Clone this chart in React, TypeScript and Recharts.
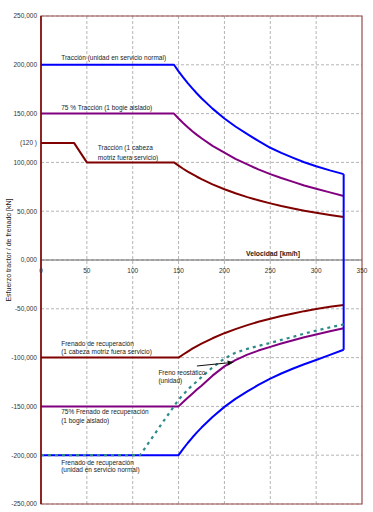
import {
  CartesianGrid,
  Line,
  LineChart,
  ReferenceArea,
  ReferenceDot,
  ReferenceLine,
  XAxis,
  YAxis,
} from "recharts";

const FONT = "'Liberation Sans', Arial, sans-serif";

// axes (speed in km/h, force in kN)
const xTicks = [0, 50, 100, 150, 200, 250, 300, 350];
const yTicks = [-250, -200, -150, -100, -50, 0, 50, 100, 150, 200, 250];
const yMarkTick = 120;

// speeds read along the curved parts
const curveV = [155, 160, 165, 170, 175, 187, 200, 212, 225, 237, 250, 262, 275, 287, 300, 315, 330];

// traction curves
const tracNormalV = [0, 145, 150, ...curveV];
const tracNormalF = [200, 200, 193.3, 187.1, 181.3, 175.8, 170.6, 165.7, 155.1, 145, 136.8, 128.9, 122, 115, 109.8, 104.7, 100.2, 96, 91.8, 88];

const trac75V = [0, 145, 150, ...curveV];
const trac75F = [150, 150, 145, 140.4, 136.1, 132, 128.2, 124.7, 116.9, 110, 103.6, 98, 92.8, 88, 84, 80, 76.4, 73, 69.3, 65.5];

const tracHeadV = [0, 36, 50, 145, 150, ...curveV];
const tracHeadF = [120, 120, 100, 100, 96.7, 93.5, 90.6, 87.9, 85.3, 82.9, 77.5, 72.5, 68.4, 64.4, 61.2, 58, 55.3, 52.7, 50.5, 48.3, 46, 44];

// drop at top speed
const cutoffV = [330, 330];
const cutoffF = [88, -92];

// braking curves
const brakeHeadV = [0, 150, ...curveV];
const brakeHeadF = [-100, -100, -96.8, -93.8, -90.9, -88.2, -85.7, -80.2, -75, -70.8, -66.7, -63.3, -60.2, -57.4, -54.8, -52.4, -50.3, -48, -46];

const brake75V = [0, 150, ...curveV];
const brake75F = [-150, -150, -145.5, -141.2, -137, -132.8, -128.8, -118.5, -109, -102.5, -97, -92.8, -89, -85.6, -82.3, -79.2, -76.3, -73, -70];

const brakeNormalV = [0, 150, ...curveV];
const brakeNormalF = [-200, -200, -193.5, -187.5, -181.9, -176.6, -171.7, -160.8, -150.5, -142.3, -134.6, -128, -121.5, -116.3, -111.2, -106.8, -102.5, -97.2, -92];

const rheoV = [0, 108, 130, 150, 162, 175, 187, 200, 212, 225, 237, 250, 262, 275, 287, 300, 315, 330];
const rheoF = [-200, -200, -170, -143, -131, -120, -110, -101, -95, -91, -88, -85, -81.8, -78.7, -75.4, -72.4, -69, -66];

const notes = [
  { text: "Tracción (unidad en servicio normal)", v: 22, f: 207 },
  { text: "75 % Tracción (1 bogie aislado)", v: 22, f: 156 },
  { text: "Tracción (1 cabeza", v: 62, f: 115 },
  { text: "motriz fuera servicio)", v: 62, f: 105.5 },
  { text: "Frenado de recuperación", v: 22, f: -85.5 },
  { text: "(1 cabeza motriz fuera servicio)", v: 22, f: -94 },
  { text: "Freno reostático", v: 128, f: -115 },
  { text: "(unidad)", v: 128, f: -123 },
  { text: "75% Frenado de recuperación", v: 22, f: -155.7 },
  { text: "(1 bogie aislado)", v: 22, f: -164 },
  { text: "Frenado de recuperación", v: 22, f: -207 },
  { text: "(unidad en servicio normal)", v: 22, f: -215 },
];

const arrowFrom = { v: 170, f: -108.6 };
const arrowTo = { v: 210, f: -104.8 };

function zip(v: number[], f: number[]) {
  return v.map((x, i) => ({ v: x, f: f[i] }));
}

function fmtForce(v: number): string {
  if (v === yMarkTick) return "(120 )";
  return v.toFixed(3).replace(".", ",");
}

function Arrow(props: any) {
  const { x1, y1, x2, y2 } = props;
  const a = Math.atan2(y2 - y1, x2 - x1);
  const len = 6;
  const w = 2.5;
  const bx = x2 - len * Math.cos(a);
  const by = y2 - len * Math.sin(a);
  const px = -Math.sin(a) * w;
  const py = Math.cos(a) * w;
  return (
    <g>
      <line x1={x1} y1={y1} x2={bx} y2={by} stroke="#111" strokeWidth={1} />
      <polygon
        points={`${x2},${y2} ${bx + px},${by + py} ${bx - px},${by - py}`}
        fill="#111"
      />
    </g>
  );
}

function YTitle(props: any) {
  const vb = props.viewBox || { x: 0, y: 16, width: 41, height: 488 };
  const cx = vb.x + 8;
  const cy = vb.y + vb.height / 2 - 10;
  return (
    <text
      x={cx}
      y={cy}
      transform={`rotate(-90 ${cx} ${cy})`}
      textAnchor="middle"
      dominantBaseline="central"
      fontSize={7}
      fontFamily={FONT}
      fill="#222"
    >
      Esfuerzo tractor / de frenado [kN]
    </text>
  );
}

export default function App() {
  const lineProps = {
    dataKey: "f",
    dot: false,
    isAnimationActive: false,
    type: "linear" as const,
    strokeWidth: 2,
    strokeLinejoin: "round" as const,
  };
  return (
    <div style={{ position: "absolute", left: 0, top: 0, background: "#fff" }}>
      <LineChart width={373} height={512} margin={{ top: 16, right: 11, bottom: 8, left: 0 }}>
        <CartesianGrid
          stroke="#b5b5b5"
          strokeDasharray="3 2"
          horizontalValues={yTicks}
          verticalValues={[50, 100, 150, 200, 250, 300]}
        />
        <XAxis dataKey="v" type="number" domain={[0, 350]} ticks={xTicks} hide />
        <YAxis
          type="number"
          domain={[-250, 250]}
          ticks={[...yTicks, yMarkTick]}
          interval={0}
          tickFormatter={fmtForce}
          width={41}
          tickLine={false}
          tickSize={0}
          tickMargin={4}
          axisLine={{ stroke: "#7a0000", strokeWidth: 1.5 }}
          tick={{ fontSize: 6.5, fill: "#333", fontFamily: FONT }}
          label={YTitle}
        />
        <ReferenceArea
          x1={0}
          x2={350}
          y1={-250}
          y2={250}
          fill="none"
          stroke="#9b4a4a"
          strokeWidth={1.2}
        />
        <ReferenceLine y={0} stroke="#666" strokeWidth={1} />

        <Line {...lineProps} data={zip(tracHeadV, tracHeadF)} stroke="#800000" />
        <Line {...lineProps} data={zip(trac75V, trac75F)} stroke="#800080" />
        <Line {...lineProps} data={zip(brakeHeadV, brakeHeadF)} stroke="#800000" />
        <Line {...lineProps} data={zip(brake75V, brake75F)} stroke="#800080" />
        <Line {...lineProps} data={zip(brakeNormalV, brakeNormalF)} stroke="#0000ff" />
        <Line {...lineProps} data={zip(tracNormalV, tracNormalF)} stroke="#0000ff" />
        <Line {...lineProps} data={zip(cutoffV, cutoffF)} stroke="#0000ff" />
        <Line
          {...lineProps}
          data={zip(rheoV, rheoF)}
          stroke="#2e8b8b"
          strokeWidth={2.2}
          strokeDasharray="3 4"
        />

        {xTicks.map((t) => (
          <ReferenceDot
            key={`xt${t}`}
            x={t}
            y={0}
            r={0}
            shape={(p: any) => (
              <text
                x={p.cx}
                y={p.cy + 10}
                textAnchor="middle"
                dominantBaseline="central"
                fontSize={6.5}
                fontFamily={FONT}
                fill="#333"
              >
                {t}
              </text>
            )}
          />
        ))}
        <ReferenceDot
          x={253}
          y={7}
          r={0}
          shape={(p: any) => (
            <text
              x={p.cx}
              y={p.cy}
              textAnchor="middle"
              dominantBaseline="central"
              fontSize={6.8}
              fontWeight="bold"
              fontFamily={FONT}
              fill="#222"
            >
              Velocidad [km/h]
            </text>
          )}
        />
        {notes.map((n, i) => (
          <ReferenceDot
            key={`n${i}`}
            x={n.v}
            y={n.f}
            r={0}
            shape={(p: any) => (
              <text
                x={p.cx}
                y={p.cy}
                dominantBaseline="central"
                fontSize={6.5}
                fontFamily={FONT}
                fill="#222"
              >
                {n.text}
              </text>
            )}
          />
        ))}
        <ReferenceLine
          segment={[
            { x: arrowFrom.v, y: arrowFrom.f },
            { x: arrowTo.v, y: arrowTo.f },
          ]}
          shape={Arrow}
        />
      </LineChart>
    </div>
  );
}
